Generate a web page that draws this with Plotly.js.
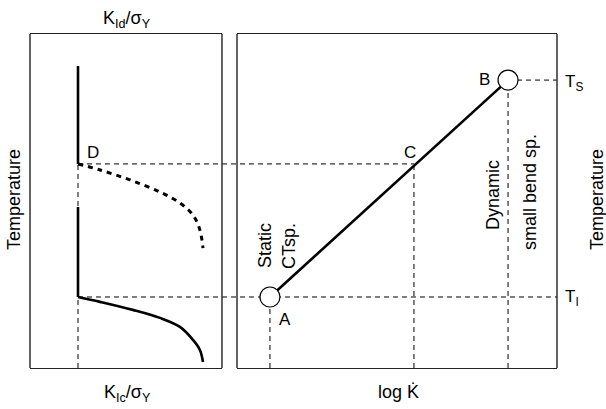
<!DOCTYPE html>
<html><head><meta charset="utf-8">
<script src="https://cdn.plot.ly/plotly-3.0.1.min.js"></script>
<style>html,body{margin:0;padding:0;background:#fff}#chart{width:606px;height:409px}</style>
</head><body><div id="chart"></div>
<script>
// Temperature levels (normalized 0..1)
const T_I = 0.2126, T_D = 0.611, T_S = 0.862, T_TOP = 0.904, T_GAP = 0.482;
// Left panel: K/sigmaY (normalized)
const kBase = 0.25;
const dynK = [0.25, 0.365, 0.521, 0.677, 0.781, 0.849, 0.885, 0.901];
const dynT = [0.611, 0.593, 0.563, 0.527, 0.494, 0.458, 0.413, 0.359];
const staK = [0.25, 0.365, 0.536, 0.677, 0.781, 0.849, 0.885, 0.901];
const staT = [0.2126, 0.198, 0.174, 0.150, 0.123, 0.084, 0.054, 0.018];
// Right panel: log K-dot (normalized)
const pointLabels = ['A', 'C', 'B'];
const pointLogK = [0.103, 0.553, 0.847];
const pointT = [T_I, T_D, T_S];

const dom1 = [0, 0.3643], dom2 = [0.3928, 1];
const p1 = v => dom1[0] + v * (dom1[1] - dom1[0]);
const p2 = v => dom2[0] + v * (dom2[1] - dom2[0]);

const thick = {color: '#000', width: 2.6};
const dash = {color: '#000', width: 1, dash: '5px,4px'};
const FONT = 'Arial, Liberation Sans, sans-serif';

const traces = [
  // left panel
  {x: [kBase, kBase], y: [0, T_D], mode: 'lines', line: dash, xaxis: 'x', yaxis: 'y'},
  {x: [kBase, kBase], y: [T_D, T_TOP], mode: 'lines', line: thick, xaxis: 'x', yaxis: 'y'},
  {x: [kBase, kBase], y: [T_I, T_GAP], mode: 'lines', line: thick, xaxis: 'x', yaxis: 'y'},
  {x: dynK, y: dynT, mode: 'lines', line: {color: '#000', width: 3, dash: '5px,5px', shape: 'spline'}, xaxis: 'x', yaxis: 'y'},
  {x: staK, y: staT, mode: 'lines', line: Object.assign({shape: 'spline'}, thick), xaxis: 'x', yaxis: 'y'},
  // right panel
  {x: [pointLogK[0], pointLogK[0]], y: [0, pointT[0]], mode: 'lines', line: dash, xaxis: 'x2', yaxis: 'y'},
  {x: [pointLogK[1], pointLogK[1]], y: [0, pointT[1]], mode: 'lines', line: dash, xaxis: 'x2', yaxis: 'y'},
  {x: [pointLogK[2], pointLogK[2]], y: [0, pointT[2]], mode: 'lines', line: dash, xaxis: 'x2', yaxis: 'y'},
  {x: [pointLogK[2], 1], y: [T_S, T_S], mode: 'lines', line: dash, xaxis: 'x2', yaxis: 'y'},
  {x: [pointLogK[0], pointLogK[2]], y: [pointT[0], pointT[2]], mode: 'lines', line: thick, xaxis: 'x2', yaxis: 'y'},
  {x: [pointLogK[0], pointLogK[2]], y: [pointT[0], pointT[2]], mode: 'markers',
   marker: {size: 20, color: '#fff', line: {color: '#000', width: 1.2}}, xaxis: 'x2', yaxis: 'y'}
];

const shapes = [
  {type: 'line', xref: 'paper', yref: 'y', x0: p1(kBase), x1: p2(pointLogK[1]), y0: T_D, y1: T_D, line: dash, layer: 'below'},
  {type: 'line', xref: 'paper', yref: 'y', x0: p1(kBase), x1: 1, y0: T_I, y1: T_I, line: dash, layer: 'below'}
];

const ann = (x, y, text, size, opts) => Object.assign({xref: 'paper', yref: 'paper', x, y, text, showarrow: false,
  xanchor: 'center', yanchor: 'middle',
  font: {family: FONT, size: size, color: '#000'}}, opts || {});
const W = 606, H = 409;
const px = x => (x - 30) / 527, py = y => (368 - y) / 334;

const annotations = [
  ann(px(127), py(19), 'K<sub>Id</sub>/σ<sub>Y</sub>', 18),
  ann(px(127), py(393), 'K<sub>Ic</sub>/σ<sub>Y</sub>', 18),
  ann(px(398), py(392), 'log K\u0307', 18),
  ann(px(14), py(200), 'Temperature', 18, {textangle: -90}),
  ann(px(597), py(200), 'Temperature', 18, {textangle: -90}),
  ann(px(93), py(152), 'D', 17),
  ann(px(410), py(152), 'C', 17),
  ann(px(285), py(319), 'A', 17),
  ann(px(484), py(79), 'B', 17),
  ann(px(574), py(83), 'T<sub>S</sub>', 17),
  ann(px(572), py(298), 'T<sub>I</sub>', 17),
  ann(px(265), py(246), 'Static', 18, {textangle: -90}),
  ann(px(289), py(246), 'CTsp.', 18, {textangle: -90}),
  ann(px(493), py(195), 'Dynamic', 18, {textangle: -90}),
  ann(px(530), py(192), 'small bend sp.', 18, {textangle: -90})
];

const axBase = {showgrid: false, zeroline: false, showticklabels: false, ticks: '',
  showline: true, mirror: true, linecolor: '#222', linewidth: 1.4, range: [0, 1], fixedrange: true};

const layout = {
  width: W, height: H,
  margin: {l: 30, r: 49, t: 34, b: 41, pad: 0},
  paper_bgcolor: '#fff', plot_bgcolor: '#fff',
  showlegend: false,
  font: {family: FONT, color: '#000'},
  xaxis: Object.assign({domain: dom1}, axBase),
  xaxis2: Object.assign({domain: dom2, anchor: 'y'}, axBase),
  yaxis: Object.assign({}, axBase, {mirror: false, showline: false}),
  shapes: shapes.concat([
    {type: 'line', xref: 'paper', yref: 'paper', x0: dom1[0], x1: dom1[0], y0: 0, y1: 1, line: {color: '#222', width: 1.4}},
    {type: 'line', xref: 'paper', yref: 'paper', x0: dom1[1], x1: dom1[1], y0: 0, y1: 1, line: {color: '#222', width: 1.4}},
    {type: 'line', xref: 'paper', yref: 'paper', x0: dom2[0], x1: dom2[0], y0: 0, y1: 1, line: {color: '#222', width: 1.4}},
    {type: 'line', xref: 'paper', yref: 'paper', x0: dom2[1], x1: dom2[1], y0: 0, y1: 1, line: {color: '#222', width: 1.4}}
  ]),
  annotations: annotations
};

Plotly.newPlot('chart', traces, layout, {displayModeBar: false, staticPlot: true});
</script>
</body></html>
